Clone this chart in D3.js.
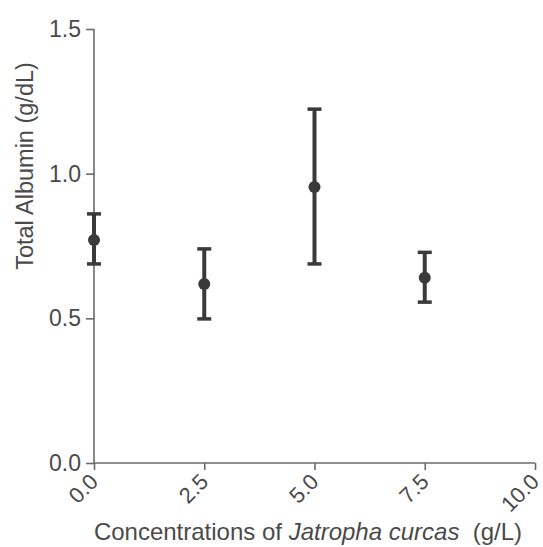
<!DOCTYPE html>
<html><head><meta charset="utf-8">
<script src="https://cdn.jsdelivr.net/npm/d3@7"></script>
<style>body{margin:0;background:#fff}svg{display:block}text{font-family:"Liberation Sans",Arial,sans-serif}</style>
</head><body>
<svg id="c" width="543" height="547"></svg>
<script>
const concentrations = [0, 2.5, 5.0, 7.5];
const means = [0.771, 0.619, 0.954, 0.640];
const upper = [0.861, 0.740, 1.223, 0.728];
const lower = [0.688, 0.498, 0.688, 0.556];
const xTicks = [0, 2.5, 5, 7.5, 10];
const yTicks = [0, 0.5, 1.0, 1.5];

const svg = d3.select("#c");
const x = d3.scaleLinear().domain([0, 10]).range([94, 535]);
const y = d3.scaleLinear().domain([0, 1.5]).range([463, 29]);
const axisCol = "#6a6a6a", textCol = "#4a4a4a", markCol = "#3a3a3a";

const ya = svg.append("g").attr("transform", "translate(94,0)")
  .call(d3.axisLeft(y).tickValues(yTicks).tickFormat(d3.format(".1f")).tickSize(8).tickPadding(5));
const xa = svg.append("g").attr("transform", "translate(0,463)")
  .call(d3.axisBottom(x).tickValues(xTicks).tickFormat(d3.format(".1f")).tickSize(7).tickPadding(4));
[ya, xa].forEach(g => {
  g.select(".domain").attr("stroke", axisCol).attr("stroke-width", 1.6);
  g.selectAll(".tick line").attr("stroke", axisCol).attr("stroke-width", 1.6);
  g.selectAll("text").attr("fill", textCol).style("font-size", "23px");
});
ya.select(".domain").attr("d", "M0,463V29");
xa.select(".domain").attr("d", "M94,0H535");
xa.selectAll(".tick text")
  .style("font-size", "22px")
  .attr("text-anchor", "end").attr("dy", null).attr("y", 0)
  .attr("transform", "translate(5,20) rotate(-45)");

const g = svg.append("g");
concentrations.forEach((c, i) => {
  const cx = x(c);
  g.append("line").attr("x1", cx).attr("x2", cx).attr("y1", y(lower[i])).attr("y2", y(upper[i]))
    .attr("stroke", markCol).attr("stroke-width", 4);
  [lower[i], upper[i]].forEach(v => g.append("line")
    .attr("x1", cx - 7).attr("x2", cx + 7).attr("y1", y(v)).attr("y2", y(v))
    .attr("stroke", markCol).attr("stroke-width", 3.5));
  g.append("circle").attr("cx", cx).attr("cy", y(means[i])).attr("r", 6).attr("fill", markCol);
});

svg.append("text").attr("transform", "translate(33,166) rotate(-90)")
  .attr("text-anchor", "middle").attr("fill", textCol).style("font-size", "23.5px")
  .text("Total Albumin (g/dL)");

const xl = svg.append("text").attr("x", 308).attr("y", 540).attr("text-anchor", "middle")
  .attr("fill", textCol).style("font-size", "24px");
xl.append("tspan").text("Concentrations of ");
xl.append("tspan").attr("font-style", "italic").text("Jatropha curcas");
xl.append("tspan").text("\u00a0 (g/L)");
</script>
</body></html>
